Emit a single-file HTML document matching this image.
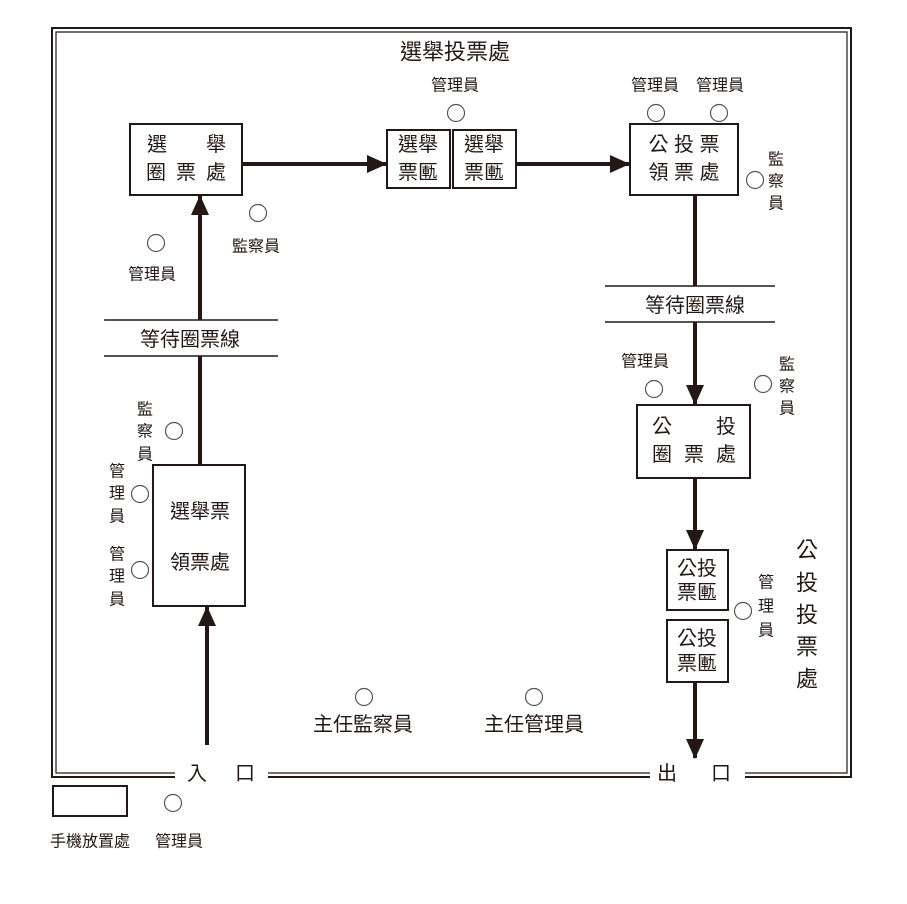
<!DOCTYPE html>
<html><head><meta charset="utf-8"><style>
html,body{margin:0;padding:0;background:#fff;}
svg{display:block;}
text{font-family:"Liberation Sans","Noto Sans CJK TC",sans-serif;fill:#231815;text-anchor:middle;dominant-baseline:central;}
.s{font-size:16px;}
.m{font-size:20px;}
.l{font-size:22px;}
</style></head><body>
<svg width="907" height="904" viewBox="0 0 907 904" xmlns="http://www.w3.org/2000/svg">
<defs>
<marker id="a" markerWidth="20" markerHeight="20" refX="19" refY="10" orient="auto" markerUnits="userSpaceOnUse" viewBox="0 0 20 20">
<path d="M0,1 L20,10 L0,19 z" fill="#231815"/></marker>
</defs>
<g fill="none" stroke="#231815">
<path d="M175,777 H52 V28 H851 V777 H745 M650,777 H268" stroke-width="2"/>
<path d="M175,773 H56 V32 H847 V773 H745 M650,773 H268" stroke-width="1.2"/>
<rect x="130" y="124" width="112" height="71" stroke-width="2"/>
<rect x="387" y="130" width="63" height="58" stroke-width="2"/>
<rect x="453" y="130" width="63" height="58" stroke-width="2"/>
<rect x="630" y="124" width="108" height="71" stroke-width="2"/>
<rect x="637" y="405" width="113" height="73" stroke-width="2"/>
<rect x="667" y="550" width="61" height="60" stroke-width="2"/>
<rect x="667" y="620" width="61" height="62" stroke-width="2"/>
<rect x="153" y="465" width="92" height="141" stroke-width="2"/>
<rect x="53" y="786" width="74" height="30" stroke-width="2"/>
<path d="M104,320 H278 M104,356 H278 M605,286 H775 M605,322 H775" stroke-width="1.5"/>
<g stroke-width="4">
<line x1="242" y1="164" x2="386" y2="164" marker-end="url(#a)"/>
<line x1="516" y1="164" x2="629" y2="164" marker-end="url(#a)"/>
<line x1="200" y1="320" x2="200" y2="196" marker-end="url(#a)"/>
<line x1="200" y1="356" x2="200" y2="465"/>
<line x1="207" y1="745" x2="207" y2="607" marker-end="url(#a)"/>
<line x1="695" y1="195" x2="695" y2="286"/>
<line x1="695" y1="322" x2="695" y2="404" marker-end="url(#a)"/>
<line x1="695" y1="478" x2="695" y2="549" marker-end="url(#a)"/>
<line x1="695" y1="682" x2="695" y2="758" marker-end="url(#a)"/>
</g>
<g stroke="#555" stroke-width="1.2">
<circle cx="456" cy="113" r="8.5"/>
<circle cx="656" cy="113" r="8.5"/>
<circle cx="719" cy="113" r="8.5"/>
<circle cx="755" cy="180" r="8.5"/>
<circle cx="258" cy="213" r="8.5"/>
<circle cx="156" cy="243" r="8.5"/>
<circle cx="654" cy="389" r="8.5"/>
<circle cx="763" cy="384" r="8.5"/>
<circle cx="174" cy="431" r="8.5"/>
<circle cx="140" cy="494" r="8.5"/>
<circle cx="140" cy="570" r="8.5"/>
<circle cx="743" cy="611" r="8.5"/>
<circle cx="364" cy="697" r="8.5"/>
<circle cx="534" cy="697" r="8.5"/>
<circle cx="173" cy="803" r="8.5"/>
</g>
</g>
<text x="455" y="52" class="l">選舉投票處</text>
<text x="455" y="86" class="s">管理員</text>
<text x="655" y="86" class="s">管理員</text>
<text x="720" y="86" class="s">管理員</text>
<text x="157" y="145" class="m">選</text><text x="216" y="145" class="m">舉</text>
<text x="156" y="173" class="m">圈</text><text x="186" y="173" class="m">票</text><text x="216" y="173" class="m">處</text>
<text x="418" y="145" class="m">選舉</text><text x="418" y="173" class="m">票匭</text>
<text x="484" y="145" class="m">選舉</text><text x="484" y="173" class="m">票匭</text>
<text x="684" y="145" class="m">公 投 票</text><text x="684" y="173" class="m">領 票 處</text>
<text x="776" y="160" class="s">監</text><text x="776" y="182" class="s">察</text><text x="776" y="204" class="s">員</text>
<text x="256" y="247" class="s">監察員</text>
<text x="152" y="275" class="s">管理員</text>
<text x="190" y="340" class="m">等待圈票線</text>
<text x="695" y="306" class="m">等待圈票線</text>
<text x="645" y="362" class="s">管理員</text>
<text x="787" y="365" class="s">監</text><text x="787" y="387" class="s">察</text><text x="787" y="409" class="s">員</text>
<text x="662" y="427" class="m">公</text><text x="726" y="427" class="m">投</text>
<text x="662" y="455" class="m">圈</text><text x="694" y="455" class="m">票</text><text x="726" y="455" class="m">處</text>
<text x="697" y="569" class="m">公投</text><text x="697" y="593" class="m">票匭</text>
<text x="697" y="639" class="m">公投</text><text x="697" y="664" class="m">票匭</text>
<text x="766" y="583" class="s">管</text><text x="766" y="607" class="s">理</text><text x="766" y="631" class="s">員</text>
<text x="807" y="550" class="l">公</text><text x="807" y="583" class="l">投</text><text x="807" y="615" class="l">投</text><text x="807" y="647" class="l">票</text><text x="807" y="679" class="l">處</text>
<text x="145" y="410" class="s">監</text><text x="145" y="432" class="s">察</text><text x="145" y="455" class="s">員</text>
<text x="117" y="472" class="s">管</text><text x="117" y="494" class="s">理</text><text x="117" y="517" class="s">員</text>
<text x="117" y="555" class="s">管</text><text x="117" y="577" class="s">理</text><text x="117" y="600" class="s">員</text>
<text x="200" y="512" class="m">選舉票</text>
<text x="200" y="563" class="m">領票處</text>
<text x="363" y="725" class="m">主任監察員</text>
<text x="534" y="725" class="m">主任管理員</text>
<text x="197" y="774" class="m">入</text><text x="245" y="774" class="m">口</text>
<text x="667" y="774" class="m">出</text><text x="721" y="774" class="m">口</text>
<text x="90" y="842" class="s">手機放置處</text>
<text x="179" y="842" class="s">管理員</text>
</svg>
</body></html>
